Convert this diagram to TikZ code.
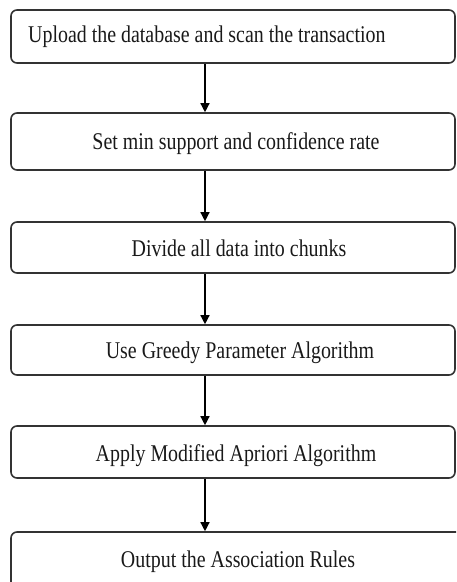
\documentclass[tikz,border=0pt]{standalone}
\usepackage{fontspec}
\setmainfont{Liberation Serif}
\usetikzlibrary{arrows.meta}
\newcommand{\sqz}[1]{\scalebox{0.83}[1]{#1}}
\begin{document}
\begin{tikzpicture}[x=1pt,y=-1pt,
  stepbox/.style={draw=black!80, line width=1.6pt, rounded corners=6pt, inner sep=0pt},
  lbl/.style={font=\fontsize{24}{28}\selectfont, inner sep=0pt, text=black!90, anchor=base},
  arr/.style={draw=black, line width=1.3pt, -{Triangle[length=9pt,width=9pt]}}]
\useasboundingbox (0,0) rectangle (456,582);
\clip (0,0) rectangle (456,582);
\coordinate (ax) at (205,0);
\node[stepbox, minimum width=444pt, minimum height=53pt] (b1) at (233,36.5) {};
\node[stepbox, minimum width=444pt, minimum height=57pt] (b2) at (233,141.5) {};
\node[stepbox, minimum width=444pt, minimum height=51pt] (b3) at (233,247.5) {};
\node[stepbox, minimum width=444pt, minimum height=50pt] (b4) at (233,350) {};
\node[stepbox, minimum width=444pt, minimum height=52pt] (b5) at (233,452) {};
\node[stepbox, minimum width=452pt, minimum height=70pt] (b6) at (237,567) {};
\node[lbl, anchor=base west] (t1) at (28,42) {\sqz{Upload the database and scan the transaction}};
\node[lbl] (t2) at (236,149) {\sqz{Set min support and confidence rate}};
\node[lbl] (t3) at (239,256) {\sqz{Divide all data into chunks}};
\node[lbl] (t4) at (240,358) {\sqz{Use Greedy Parameter Algorithm}};
\node[lbl] (t5) at (236,461) {\sqz{Apply Modified Apriori Algorithm}};
\node[lbl] (t6) at (238,567) {\sqz{Output the Association Rules}};
\draw[arr] (b1.south -| ax) -- (b2.north -| ax);
\draw[arr] (b2.south -| ax) -- (b3.north -| ax);
\draw[arr] (b3.south -| ax) -- (b4.north -| ax);
\draw[arr] (b4.south -| ax) -- (b5.north -| ax);
\draw[arr] (b5.south -| ax) -- (b6.north -| ax);
\end{tikzpicture}
\end{document}
